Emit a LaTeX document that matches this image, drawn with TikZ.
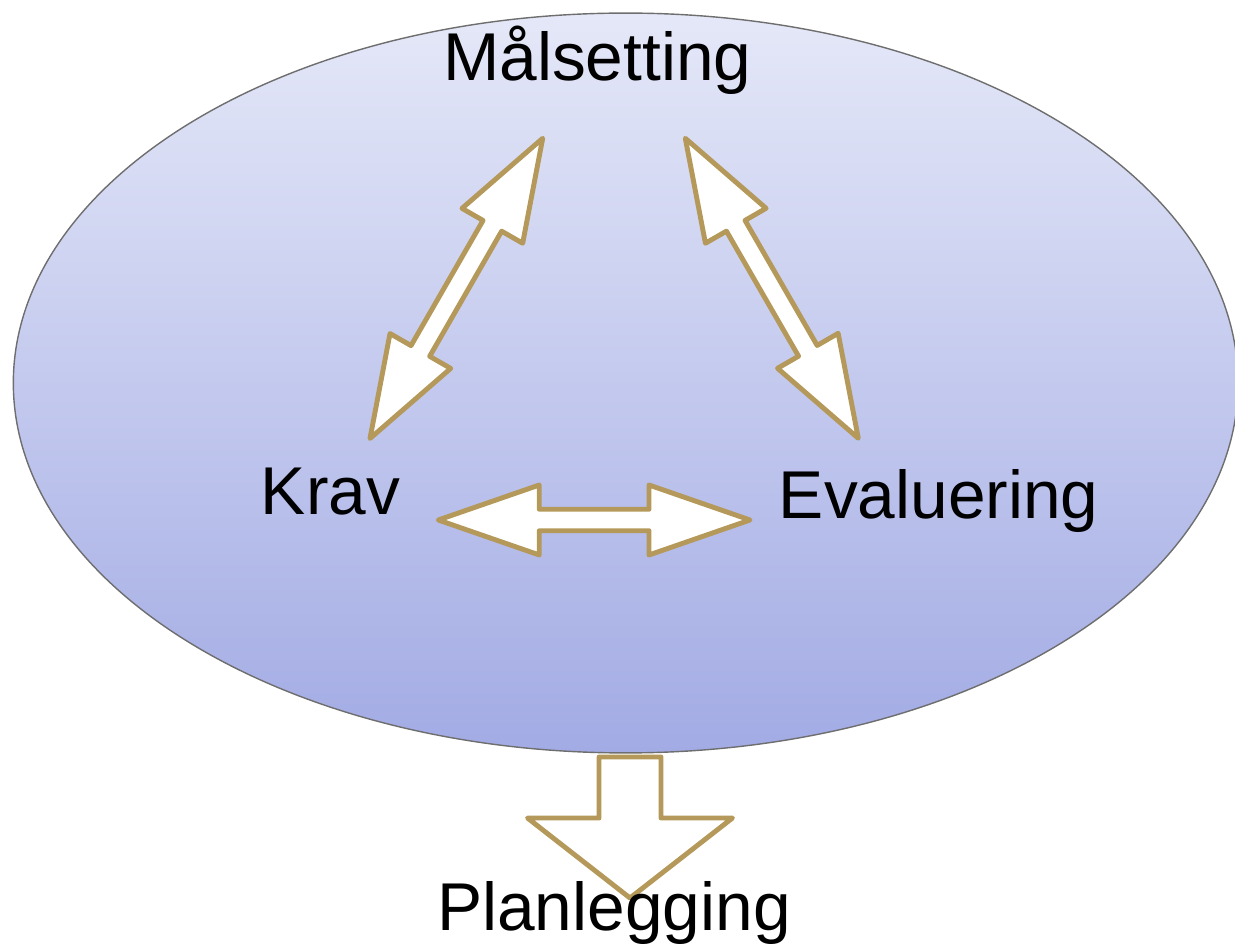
\documentclass[tikz,border=0pt]{standalone}
\usepackage{fontspec}
\setmainfont{Liberation Sans}
\usetikzlibrary{shapes.geometric, calc}
\definecolor{bandtan}{RGB}{181,153,90}
\definecolor{ovaltop}{RGB}{229,232,248}
\definecolor{ovalbot}{RGB}{162,171,228}
\definecolor{ovalline}{RGB}{110,110,110}

%% sizes of the two-way block arrows
\newcommand{\blkhl}{2.02cm}
\newcommand{\blkhw}{0.70cm}
\newcommand{\blksw}{0.215cm}

\newcommand{\dblblock}[2]{%
  \draw[blockarr]
    (#1) -- ($(#1)!\blkhl!(#2)!\blkhw!90:(#2)$)
    -- ($(#1)!\blkhl!(#2)!\blksw!90:(#2)$)
    -- ($(#2)!\blkhl!(#1)!\blksw!90:(#2)$)
    -- ($(#2)!\blkhl!(#1)!\blkhw!90:(#2)$)
    -- (#2)
    -- ($(#2)!\blkhl!(#1)!\blkhw!-90:(#2)$)
    -- ($(#2)!\blkhl!(#1)!\blksw!-90:(#2)$)
    -- ($(#1)!\blkhl!(#2)!\blksw!-90:(#2)$)
    -- ($(#1)!\blkhl!(#2)!\blkhw!-90:(#2)$)
    -- cycle;}

\begin{document}
\begin{tikzpicture}[
  x=0.02cm, y=-0.02cm,
  oval/.style={ellipse, draw=ovalline, line width=0.8pt, top color=ovaltop, bottom color=ovalbot,
    minimum width=24.5cm, minimum height=14.8cm, inner sep=0pt},
  lbl/.style={anchor=base, inner sep=0pt, font=\fontsize{38.5}{46}\selectfont},
  blockarr/.style={draw=bandtan, fill=white, line width=2.8pt, line join=round},
]
\useasboundingbox (0,0) rectangle (1235,945);

%% Oval
\node[oval] (goal) at (625.7,383) {};

%% Arrow ends
\coordinate (ms-left)  at (542.7,138.3);
\coordinate (kr-top)   at (370,438.5);
\coordinate (ms-right) at (685.3,138.3);
\coordinate (ev-top)   at (858.3,438.3);
\coordinate (kr-right) at (438.3,520);
\coordinate (ev-left)  at (750,520);
\coordinate (plan-top) at (630,757);
\coordinate (plan-tip) at (630,898);

\dblblock{ms-left}{kr-top}
\dblblock{ms-right}{ev-top}
\dblblock{kr-right}{ev-left}

%% Down arrow
\draw[blockarr]
  ($(plan-top)!0.62cm!90:(plan-tip)$)
  -- ($(plan-tip)!1.6cm!(plan-top)!0.62cm!90:(plan-tip)$)
  -- ($(plan-tip)!1.6cm!(plan-top)!2.05cm!90:(plan-tip)$)
  -- (plan-tip)
  -- ($(plan-tip)!1.6cm!(plan-top)!2.05cm!-90:(plan-tip)$)
  -- ($(plan-tip)!1.6cm!(plan-top)!0.62cm!-90:(plan-tip)$)
  -- ($(plan-top)!0.62cm!-90:(plan-tip)$)
  -- cycle;

%% Labels
\node[lbl] (malset) at (597.2,81)  {Målsetting};
\node[lbl] (krav)   at (330.5,515) {Krav};
\node[lbl] (eval)   at (938.7,518.3) {Evaluering};
\node[lbl] (plan)   at (614,930)   {Planlegging};

\end{tikzpicture}
\end{document}
